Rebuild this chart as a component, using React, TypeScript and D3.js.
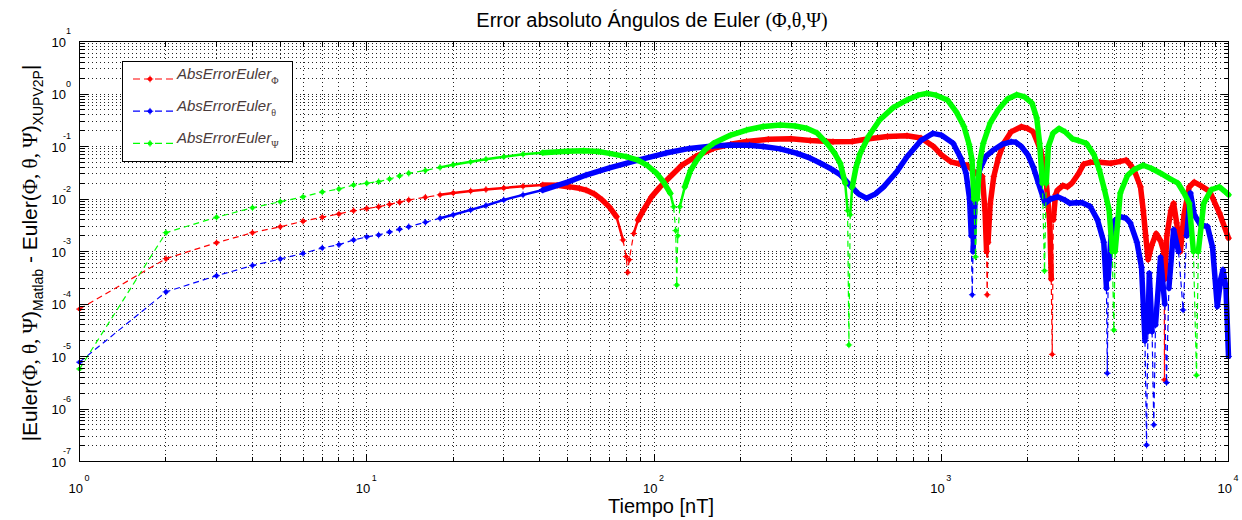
import React from "react";
import * as d3 from "d3";

// ---------- data (time [nT], absolute error) ----------
const phiErr: [number, number][] = [
  [1, 8.0e-5], [2, 7.3e-4], [3, 1.47e-3], [4, 2.28e-3], [5, 2.96e-3], [6, 3.76e-3],
  [7, 4.5e-3], [8, 5.2e-3], [9, 6.0e-3], [10, 6.6e-3], [11, 7.1e-3], [12, 7.9e-3],
  [13, 8.7e-3], [14, 9.6e-3], [16, 1.08e-2], [18, 1.2e-2], [20, 1.3e-2], [23, 1.42e-2],
  [26, 1.52e-2], [30, 1.62e-2], [35, 1.75e-2], [41, 1.85e-2], [46, 1.82e-2], [51, 1.7e-2],
  [55, 1.6e-2], [58, 1.48e-2], [62, 1.25e-2], [66, 9.6e-3], [70, 7e-3], [74, 4.6e-3],
  [78, 1.66e-3], [80, 8e-4], [81, 4e-4], [82, 7e-4], [85, 2.2e-3], [88, 4e-3], [92, 6.2e-3],
  [98, 1.1e-2], [105, 1.7e-2], [115, 2.8e-2], [125, 4.4e-2], [140, 6.5e-2], [161, 9.2e-2],
  [185, 0.11], [210, 0.125], [250, 0.137], [300, 0.14], [350, 0.13], [420, 0.123],
  [490, 0.125], [560, 0.14], [650, 0.155], [760, 0.16], [850, 0.145], [940, 0.1],
  [1000, 0.07], [1080, 0.051], [1150, 0.047], [1230, 0.044], [1320, 0.031], [1390, 0.027],
  [1420, 6e-3], [1438, 1e-3], [1445, 1.5e-4], [1455, 1.5e-3], [1480, 8e-3], [1524, 0.027],
  [1580, 0.06], [1650, 0.115], [1750, 0.19], [1900, 0.238], [2000, 0.22], [2090, 0.19],
  [2216, 0.086], [2300, 0.035], [2350, 9.6e-3], [2390, 3e-3], [2415, 3e-4], [2434, 1.1e-5],
  [2455, 4e-3], [2500, 0.012], [2540, 0.0148], [2650, 0.018], [2750, 0.017], [2850, 0.02],
  [3000, 0.03], [3130, 0.046], [3300, 0.05], [3550, 0.05], [3900, 0.048], [4200, 0.052],
  [4400, 0.055], [4550, 0.045], [4700, 0.035], [4940, 0.017], [5050, 6e-3], [5150, 2e-3],
  [5250, 7e-4], [5400, 1.3e-3], [5600, 2.2e-3], [5800, 1.6e-3], [5950, 1e-3], [5975, 3e-4],
  [5985, 3.6e-6], [6000, 3e-4], [6100, 2e-3], [6300, 6e-3], [6440, 8.3e-3], [6600, 3.5e-3],
  [6800, 1e-3], [7000, 5e-3], [7300, 0.017], [7600, 0.021], [8000, 0.018], [8600, 0.014],
  [9300, 5.4e-3], [10000, 1.8e-3],
];

const thetaErr: [number, number][] = [
  [1, 7.8e-6], [2, 1.7e-4], [3, 3.46e-4], [4, 5.4e-4], [5, 7.2e-4], [6, 9.2e-4],
  [7, 1.17e-3], [8, 1.35e-3], [9, 1.66e-3], [10, 1.9e-3], [11, 2.06e-3], [12, 2.35e-3],
  [13, 2.65e-3], [14, 2.96e-3], [16, 3.6e-3], [18, 4.3e-3], [20, 5.0e-3], [23, 6.2e-3],
  [26, 7.5e-3], [30, 9.6e-3], [35, 1.2e-2], [41, 1.48e-2], [50, 2.1e-2], [58, 2.86e-2],
  [70, 3.9e-2], [88, 5.5e-2], [110, 7.5e-2], [133, 9.2e-2], [160, 0.102], [185, 0.107],
  [215, 0.106], [240, 0.1], [275, 0.09], [315, 0.074], [350, 0.06], [380, 0.048],
  [415, 0.037], [445, 0.029], [480, 0.0185], [515, 0.0125], [550, 0.0103], [590, 0.0125],
  [630, 0.017], [700, 0.033], [760, 0.064], [850, 0.13], [935, 0.178], [1000, 0.165],
  [1100, 0.115], [1170, 0.06], [1220, 0.031], [1255, 0.01], [1272, 2e-3], [1282, 1.5e-4],
  [1290, 1e-3], [1310, 8e-3], [1360, 0.036], [1430, 0.065], [1520, 0.086], [1630, 0.11],
  [1750, 0.123], [1820, 0.12], [1900, 0.1], [2000, 0.07], [2090, 0.041], [2180, 0.02],
  [2260, 0.011], [2300, 8.3e-3], [2400, 0.01], [2540, 0.011], [2700, 0.0095], [2800, 8.3e-3],
  [2950, 8.5e-3], [3100, 8.5e-3], [3300, 7.2e-3], [3500, 4e-3], [3680, 1.5e-3], [3760, 2e-4],
  [3785, 4.8e-6], [3810, 3e-4], [3900, 2e-3], [4000, 3.8e-3], [4200, 4.6e-3], [4400, 4.3e-3],
  [4550, 3.5e-3], [4800, 1.5e-3], [4980, 5e-4], [5120, 2e-5], [5184, 2.06e-7], [5240, 3e-5],
  [5300, 3.85e-4], [5420, 3e-5], [5495, 5e-7], [5570, 4e-5], [5800, 7.8e-4], [6000, 1e-4],
  [6085, 3.2e-6], [6200, 2e-4], [6440, 2.6e-3], [6700, 1e-3], [6950, 7.7e-5], [7150, 2e-3],
  [7370, 0.013], [7600, 5e-3], [8000, 3.2e-3], [8450, 3e-3], [8800, 1.2e-3], [9140, 9e-5],
  [9400, 3e-4], [9570, 4.5e-4], [9800, 2e-4], [10000, 1e-5],
];

const psiErr: [number, number][] = [
  [1, 5.8e-6], [2, 2.28e-3], [3, 4.5e-3], [4, 6.8e-3], [5, 8.9e-3], [6, 1.1e-2],
  [7, 1.36e-2], [8, 1.55e-2], [9, 1.85e-2], [10, 2.0e-2], [11, 2.14e-2], [12, 2.4e-2],
  [13, 2.75e-2], [14, 3.1e-2], [16, 3.5e-2], [18, 4.0e-2], [20, 4.5e-2], [23, 5.1e-2],
  [26, 5.7e-2], [30, 6.4e-2], [35, 7.1e-2], [41, 7.6e-2], [50, 8.1e-2], [57, 8.3e-2],
  [64, 8.0e-2], [70, 7.4e-2], [80, 6.4e-2], [88, 5.5e-2], [95, 4.3e-2], [102, 3.1e-2],
  [108, 2.1e-2], [114, 1.28e-2], [117, 7.1e-3], [119, 2.5e-3], [120, 2.3e-4], [121, 2e-3],
  [123, 7.1e-3], [128, 0.017], [134, 0.035], [141, 0.055], [150, 0.085], [161, 0.115],
  [185, 0.165], [210, 0.206], [240, 0.24], [275, 0.257], [310, 0.245], [340, 0.222],
  [370, 0.18], [400, 0.115], [425, 0.075], [445, 0.048], [463, 0.02], [472, 6e-3],
  [477, 1.66e-5], [482, 5e-3], [490, 0.017], [505, 0.04], [522, 0.074], [560, 0.16],
  [610, 0.32], [680, 0.55], [760, 0.77], [830, 0.95], [890, 1.03], [960, 0.95],
  [1050, 0.77], [1130, 0.45], [1200, 0.24], [1250, 0.11], [1280, 0.055], [1300, 0.01],
  [1316, 7.9e-4], [1335, 0.01], [1360, 0.05], [1400, 0.115], [1480, 0.28], [1580, 0.5],
  [1700, 0.8], [1830, 0.97], [1950, 0.88], [2070, 0.67], [2150, 0.35], [2200, 0.115],
  [2250, 0.02], [2288, 4.3e-4], [2320, 0.02], [2360, 0.1], [2450, 0.18], [2570, 0.22],
  [2700, 0.19], [2860, 0.14], [3000, 0.13], [3200, 0.115], [3400, 0.07], [3550, 0.036],
  [3700, 0.015], [3840, 6.2e-3], [3940, 1e-3], [3988, 3.2e-5], [4030, 1e-3], [4200, 0.013],
  [4450, 0.028], [4680, 0.036], [5050, 0.044], [5400, 0.038], [5800, 0.031], [6200, 0.025],
  [6670, 0.02], [7000, 0.013], [7300, 8.3e-3], [7550, 1e-3], [7737, 4.4e-6], [7850, 1e-3],
  [8200, 8.3e-3], [8700, 0.015], [9300, 0.017], [9700, 0.014], [10000, 0.012],
];

const xMajorTicks = [1, 10, 100, 1000, 10000];
const xExponents = ["0", "1", "2", "3", "4"];
const yMajorTicks = [1e-7, 1e-6, 1e-5, 1e-4, 1e-3, 1e-2, 1e-1, 1, 10];
const yExponents = ["-7", "-6", "-5", "-4", "-3", "-2", "-1", "0", "1"];

const seriesSymbols = ["Φ", "θ", "Ψ"];
const seriesColors = ["#ff0000", "#0000ff", "#00ff00"];

const SANS = "'Liberation Sans', Arial, Helvetica, sans-serif";
const SERIF = "'Liberation Serif', 'DejaVu Serif', serif";

type Pt = [number, number];

export default function App() {
  const x = d3.scaleLog().domain([1, 1e4]).range([79.5, 1228.5]);
  const y = d3.scaleLog().domain([1e-7, 10]).range([461.5, 41.5]);
  const [x0, x1] = x.range();
  const [y0, y1] = [y.range()[1], y.range()[0]];

  const minorValues = (lo: number, hi: number) => {
    const out: number[] = [];
    for (let e = Math.log10(lo); e < Math.log10(hi); e++) {
      for (let m = 1; m <= 9; m++) {
        const v = m * Math.pow(10, e);
        if (v > lo * 1.0001 && v < hi * 0.9999) out.push(v);
      }
    }
    return out;
  };
  const xGrid = minorValues(1, 1e4);
  const yGrid = minorValues(1e-7, 10);
  const snap = (v: number) => Math.round(v - 0.5) + 0.5;

  const line = d3.line<Pt>().x((d) => d[0]).y((d) => d[1]);

  // classify each segment by how densely the per-sample markers would pack along it
  const buildPieces = (data: Pt[]) => {
    const n = data.length;
    const isCusp = (i: number) =>
      i > 0 && i < n - 1 &&
      data[i][1] * 4 < data[i - 1][1] && data[i][1] * 4 < data[i + 1][1];
    const groups: { tier: number; pts: Pt[] }[] = [];
    let cur: { tier: number; pts: Pt[] } | null = null;
    for (let i = 0; i < n - 1; i++) {
      const p = data[i], q = data[i + 1];
      const P: Pt = [x(p[0]), y(p[1])];
      const Q: Pt = [x(q[0]), y(q[1])];
      const len = Math.hypot(Q[0] - P[0], Q[1] - P[1]);
      const step = len / (q[0] - p[0]);
      let tier = step < 3 ? 2 : step < 7 ? 1 : 0;
      if (isCusp(i) || isCusp(i + 1)) tier = 0;
      if (!cur || cur.tier !== tier) {
        cur = { tier, pts: [P] };
        groups.push(cur);
      }
      cur.pts.push(Q);
    }
    return groups;
  };

  const allSeries = [phiErr, thetaErr, psiErr];

  const marker = (cx: number, cy: number, c: string, key: string) => (
    <g key={key}>
      <circle cx={cx} cy={cy} r={2.2} fill={c} />
      <path d={`M${cx - 3.3},${cy}H${cx + 3.3}M${cx},${cy - 3.3}V${cy + 3.3}`} stroke={c} strokeWidth={1} />
    </g>
  );

  return (
    <svg
      width={1242}
      height={520}
      style={{ position: "absolute", left: 0, top: 0, background: "#fff" }}
      fontFamily={SANS}
    >
      <rect x={0} y={0} width={1242} height={520} fill="#fff" />
      {/* grid */}
      <g stroke="#000" strokeWidth={1} strokeDasharray="1,3" shapeRendering="crispEdges" opacity={0.85}>
        {xGrid.map((v, i) => (
          <line key={"gx" + i} x1={snap(x(v))} x2={snap(x(v))} y1={y0} y2={y1} />
        ))}
        {yGrid.map((v, i) => (
          <line key={"gy" + i} x1={x0} x2={x1} y1={snap(y(v))} y2={snap(y(v))} />
        ))}
      </g>

      {/* data */}
      {allSeries.map((data, si) => {
        const groups = buildPieces(data);
        const c = seriesColors[si];
        return (
          <g key={"s" + si}>
            {groups.map((g, k) =>
              g.tier === 0 ? (
                <path key={"g" + k} d={line(g.pts) || ""} fill="none" stroke={c} strokeWidth={1.2} strokeDasharray="6,4" />
              ) : (
                <path key={"g" + k} d={line(g.pts) || ""} fill="none" stroke={c}
                  strokeWidth={g.tier === 2 ? 5.5 : 2.5} strokeLinejoin="round" strokeLinecap="round" />
              )
            )}
            {data.map((d, k) => marker(x(d[0]), y(d[1]), c, "m" + k))}
          </g>
        );
      })}

      {/* axes box and ticks */}
      <g stroke="#000" strokeWidth={1} shapeRendering="crispEdges" fill="none">
        <rect x={x0} y={y0} width={x1 - x0} height={y1 - y0} />
        {xGrid.concat(xMajorTicks).map((v, i) => {
          const major = xMajorTicks.includes(v);
          const L = major ? 8 : 5;
          const xx = snap(x(v));
          return (
            <g key={"tx" + i}>
              <line x1={xx} x2={xx} y1={y1} y2={y1 - L} />
              <line x1={xx} x2={xx} y1={y0} y2={y0 + L} />
            </g>
          );
        })}
        {yGrid.concat(yMajorTicks).map((v, i) => {
          const major = yMajorTicks.includes(v);
          const L = major ? 8 : 5;
          const yy = snap(y(v));
          return (
            <g key={"ty" + i}>
              <line x1={x0} x2={x0 + L} y1={yy} y2={yy} />
              <line x1={x1} x2={x1 - L} y1={yy} y2={yy} />
            </g>
          );
        })}
      </g>

      {/* tick labels */}
      <g fill="#000">
        {xMajorTicks.map((v, i) => (
          <g key={"lx" + i}>
            <text x={x(v) + 3.5} y={493} fontSize={13} textAnchor="end">10</text>
            <text x={x(v) + 5} y={481} fontSize={9}>{xExponents[i]}</text>
          </g>
        ))}
        {yMajorTicks.map((v, i) => (
          <g key={"ly" + i}>
            <text x={66} y={y(v) + 5} fontSize={13} textAnchor="end">10</text>
            <text x={71} y={y(v) - 7.5} fontSize={9} textAnchor="end">{yExponents[i]}</text>
          </g>
        ))}
      </g>

      {/* title */}
      <text x={652} y={27} fontSize={20} textAnchor="middle" fill="#000">
        Error absoluto Ángulos de Euler <tspan fontFamily={SERIF}>(Φ,θ,Ψ)</tspan>
      </text>

      {/* x label */}
      <text x={661} y={513} fontSize={20} textAnchor="middle" fill="#000">Tiempo [nT]</text>

      {/* y label */}
      <text transform="translate(37,253) rotate(-90)" fontSize={21} textAnchor="middle" fill="#000">
        |Euler(<tspan fontFamily={SERIF}>Φ, θ, Ψ</tspan>)
        <tspan fontSize={14} dy={6}>Matlab</tspan>
        <tspan dy={-6}> - Euler(</tspan>
        <tspan fontFamily={SERIF}>Φ, θ, Ψ</tspan>)
        <tspan fontSize={14} dy={6}>XUPV2P</tspan>
        <tspan dy={-6}>|</tspan>
      </text>

      {/* legend */}
      <g>
        <rect x={122.5} y={61.5} width={170} height={100} fill="#fff" stroke="#000" strokeWidth={1} shapeRendering="crispEdges" />
        {seriesSymbols.map((s, i) => {
          const ly = 79 + i * 32.2;
          return (
            <g key={"lg" + i}>
              <line x1={133} x2={173} y1={ly} y2={ly} stroke={seriesColors[i]} strokeWidth={1.2} strokeDasharray="7,4" />
              {marker(150, ly, seriesColors[i], "lm" + i)}
              <text x={177} y={ly - 0.5} fontSize={15} fontStyle="italic" fill="#4a3a3a">
                AbsErrorEuler
                <tspan fontFamily={SERIF} fontStyle="normal" fontSize={10} dy={5}>{s}</tspan>
              </text>
            </g>
          );
        })}
      </g>
    </svg>
  );
}
